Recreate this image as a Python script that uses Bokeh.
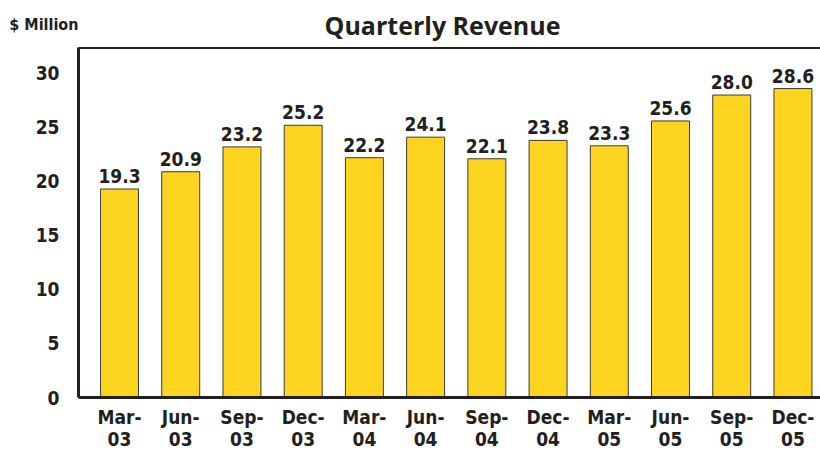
from bokeh.plotting import figure
from bokeh.models import Range1d, LinearAxis, FixedTicker, Label, ColumnDataSource
from bokeh.layouts import column
from bokeh.core.properties import value
from bokeh.embed import file_html
from bokeh.resources import INLINE

quarters = ["Mar-\n03", "Jun-\n03", "Sep-\n03", "Dec-\n03",
            "Mar-\n04", "Jun-\n04", "Sep-\n04", "Dec-\n04",
            "Mar-\n05", "Jun-\n05", "Sep-\n05", "Dec-\n05"]
revenue = [19.3, 20.9, 23.2, 25.2, 22.2, 24.1, 22.1, 23.8, 23.3, 25.6, 28.0, 28.6]
y_ticks = [0, 5, 10, 15, 20, 25, 30]

FONT = "DejaVu Sans Condensed"
TXT = "#231f20"
BAR = "#fdd51f"

xs = list(range(len(quarters)))
src = ColumnDataSource(dict(x=xs, y=revenue, lbl=[f"{v:.1f}" for v in revenue]))

# header strip: its frame lines up with the chart frame (x from 78 to 820 px)
HEAD_H = 47
head = figure(width=820, height=HEAD_H, output_backend="svg", toolbar_location=None,
              x_axis_type=None, y_axis_type=None,
              min_border_left=78, min_border_right=0, min_border_top=0, min_border_bottom=0,
              x_range=Range1d(78, 820), y_range=Range1d(0, HEAD_H))
head.outline_line_color = None
head.grid.visible = False
head.add_layout(Label(x=442, y=23, text="Quarterly Revenue",
                      text_align="center", text_baseline="alphabetic",
                      text_font="Open Sans", text_font_style="bold", text_font_size="25px",
                      text_color=TXT))
ua = LinearAxis(ticker=FixedTicker(ticks=[]))
ua.axis_line_color = None
ua.major_tick_line_color = None
ua.minor_tick_line_color = None
ua.major_label_text_font_size = "0px"
ua.axis_label = "$ Million"
ua.axis_label_orientation = "horizontal"
ua.axis_label_standoff = 0
ua.axis_label_text_font = FONT
ua.axis_label_text_font_style = "bold"
ua.axis_label_text_font_size = "16px"
ua.axis_label_text_color = TXT
head.add_layout(ua, "left")

p = figure(width=820, height=452 - HEAD_H, output_backend="svg", toolbar_location=None,
           x_range=Range1d(-0.67, 11.45), y_range=Range1d(0, 32.4),
           x_axis_type=None, y_axis_type=None,
           min_border_left=78, min_border_right=0, min_border_top=0, min_border_bottom=40)
p.outline_line_color = None
p.grid.visible = False
p.background_fill_color = "white"

p.vbar(x="x", top="y", width=0.62, source=src, fill_color=BAR, line_color="#3a3a3a", line_width=1)
p.text(x="x", y="y", text="lbl", source=src, text_align="center", text_baseline="bottom",
       y_offset=-6, text_font=value(FONT), text_font_style="bold", text_font_size="19px",
       text_color=TXT)

# left axis
ya = LinearAxis(ticker=FixedTicker(ticks=y_ticks))
ya.axis_line_width = 3
ya.axis_line_color = TXT
ya.major_tick_line_color = None
ya.minor_tick_line_color = None
ya.major_label_standoff = 13
ya.major_label_text_font = FONT
ya.major_label_text_font_style = "bold"
ya.major_label_text_font_size = "19px"
ya.major_label_text_color = TXT
p.add_layout(ya, "left")

# bottom axis
xa = LinearAxis(ticker=FixedTicker(ticks=xs))
xa.major_label_overrides = {i: q for i, q in zip(xs, quarters)}
xa.axis_line_width = 3
xa.axis_line_color = TXT
xa.major_tick_line_color = None
xa.minor_tick_line_color = None
xa.major_label_standoff = 2
xa.major_label_text_line_height = 1.0
xa.major_label_text_font = FONT
xa.major_label_text_font_style = "bold"
xa.major_label_text_font_size = "19px"
xa.major_label_text_color = TXT
p.add_layout(xa, "below")

# top frame line
ta = LinearAxis(ticker=FixedTicker(ticks=[]))
ta.axis_line_width = 3
ta.axis_line_color = TXT
ta.major_tick_line_color = None
ta.minor_tick_line_color = None
ta.major_label_text_font_size = "0px"
p.add_layout(ta, "above")

open("out.html", "w").write(file_html(column(head, p, spacing=0), INLINE))
